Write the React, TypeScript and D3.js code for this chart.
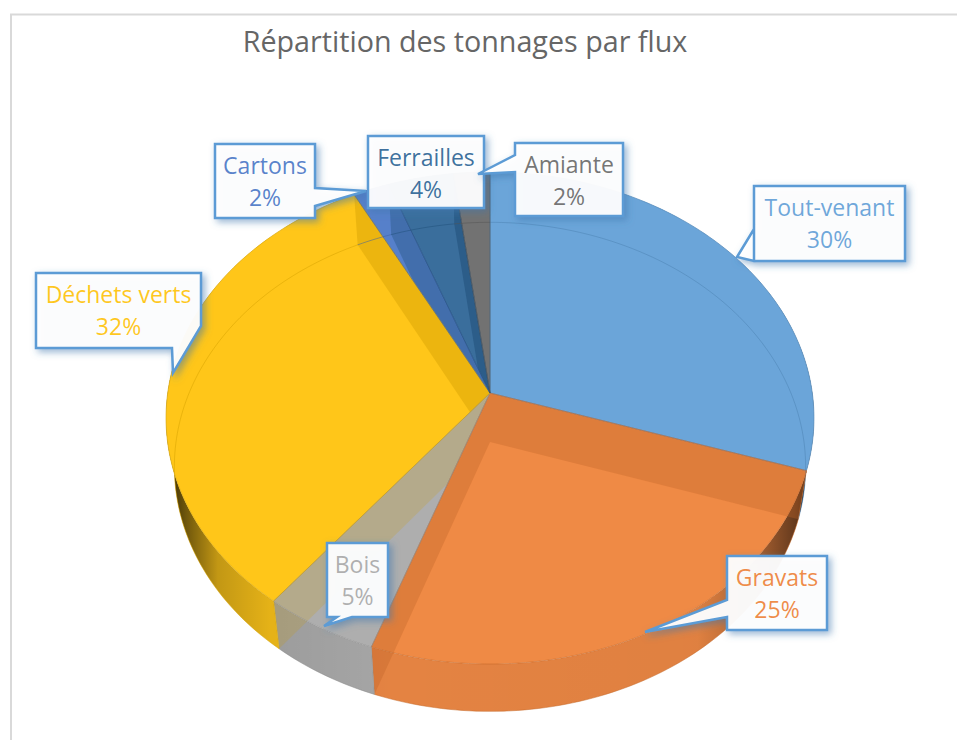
// App.tsx - Répartition des tonnages par flux (pseudo 3D pie)
import { useEffect, useRef } from 'react';
import * as d3 from 'd3';

const categories = ['Tout-venant', 'Gravats', 'Bois', 'Déchets verts', 'Cartons', 'Ferrailles', 'Amiante'];
const shares = [30, 25.4, 5.2, 31.8, 2, 3.6, 2];
const colors = ['#5b9bd5', '#ed7d31', '#a5a5a5', '#ffc000', '#4472c4', '#255e91', '#636363'];

// callout boxes: [left, top, right, bottom], same order as categories
const boxes = [
  [754, 186, 905, 261],
  [727, 556, 827, 630],
  [327, 543, 388, 617],
  [36, 273, 201, 348],
  [215, 144, 315, 218],
  [368, 136, 484, 208],
  [515, 143, 623, 216],
];
// tail of each callout: base point, tip, base point
const tails = [
  [[754, 229], [737, 257], [754, 261]],
  [[727, 617], [645, 632], [727, 600]],
  [[352, 617], [324, 626], [337, 617]],
  [[172, 348], [173, 373], [201, 326]],
  [[315, 188], [366, 191], [315, 206]],
  [[484, 208], [484, 208], [484, 208]],
  [[515, 172], [478, 174], [515, 155]],
];
// inner wall at the end of each slice: slice that colours it, slice it shows through, strength
const wallOwner = [1, 1, 3, 3, 5, 5, 0];
const wallOver = [1, 1, 2, 3, 4, 5, 6];
const wallAlpha = [0.35, 0.35, 0.2, 0.38, 0.35, 0.5, 0];

const WIDTH = 957;
const HEIGHT = 740;

// perspective of the top and bottom discs
const K = 0.1016;
const topDisc = { cx: 490, cy: 393, a: 322.3, b: 243.5 };
const bottomDisc = { cx: 490, cy: 442, a: 314, b: 242 };

const project = (disc, theta) => {
  const w = 1 + K * Math.cos(theta);
  return [disc.cx + (disc.a * Math.sin(theta)) / w, disc.cy - (disc.b * Math.cos(theta)) / w];
};

const arcPoints = (disc, start, end) => {
  const n = Math.max(2, Math.ceil((end - start) / 0.02));
  return d3.range(n + 1).map((i) => project(disc, start + ((end - start) * i) / n));
};

const App = () => {
  const svgRef = useRef(null);

  useEffect(() => {
    const svg = d3.select(svgRef.current);
    svg.selectAll('*').remove();

    const line = d3.line();
    const closed = (pts) => line(pts) + 'Z';

    const slices = d3.pie().sort(null).value((d) => d)(shares);
    const topPath = (s) => closed([[topDisc.cx, topDisc.cy], ...arcPoints(topDisc, s.startAngle, s.endAngle)]);
    const wallPath = (s) =>
      closed([
        ...arcPoints(topDisc, s.startAngle, s.endAngle),
        ...arcPoints(bottomDisc, s.startAngle, s.endAngle).reverse(),
      ]);

    const defs = svg.append('defs');
    const wallShade = defs
      .append('linearGradient')
      .attr('id', 'wallShade')
      .attr('gradientUnits', 'userSpaceOnUse')
      .attr('x1', 166)
      .attr('x2', 814)
      .attr('y1', 0)
      .attr('y2', 0);
    [
      [0, 0.8],
      [0.03, 0.55],
      [0.08, 0.2],
      [0.16, 0.06],
      [0.35, 0],
      [0.82, 0.02],
      [0.92, 0.3],
      [0.97, 0.55],
      [1, 0.8],
    ].forEach(([o, a]) => {
      wallShade.append('stop').attr('offset', o).attr('stop-color', '#000').attr('stop-opacity', a);
    });
    const shadow = defs
      .append('filter')
      .attr('id', 'boxShadow')
      .attr('x', '-30%')
      .attr('y', '-30%')
      .attr('width', '160%')
      .attr('height', '160%');
    shadow
      .append('feDropShadow')
      .attr('dx', 3)
      .attr('dy', 3)
      .attr('stdDeviation', 3.5)
      .attr('flood-color', '#3f78ad')
      .attr('flood-opacity', 0.55);
    // each slice's area (top face + outer wall), used to keep inner walls inside it
    slices.forEach((s, i) => {
      const clip = defs.append('clipPath').attr('id', `sliceArea${i}`);
      clip.append('path').attr('d', topPath(s));
      clip.append('path').attr('d', wallPath(s));
    });

    // chart frame
    svg
      .append('path')
      .attr('d', `M11,${HEIGHT}V14.5H${WIDTH}`)
      .attr('fill', 'none')
      .attr('stroke', '#d9d9d9')
      .attr('stroke-width', 2);

    svg
      .append('text')
      .attr('x', 465)
      .attr('y', 52)
      .attr('text-anchor', 'middle')
      .attr('font-family', '"Open Sans", sans-serif')
      .attr('font-size', 28.7)
      .attr('fill', '#666')
      .text('Répartition des tonnages par flux');

    // outer walls, top faces are painted over them
    slices.forEach((s, i) => {
      const d = wallPath(s);
      svg
        .append('path')
        .attr('d', d)
        .attr('fill', d3.color(colors[i]).darker(0.15).formatHex())
        .attr('fill-opacity', 0.9);
      svg.append('path').attr('d', d).attr('fill', 'url(#wallShade)');
    });

    // white disc so the walls don't show through the top faces
    svg
      .append('path')
      .attr('d', closed(arcPoints(topDisc, 0, Math.PI * 2)))
      .attr('fill', '#fff');

    // top faces
    slices.forEach((s, i) => {
      svg
        .append('path')
        .attr('d', topPath(s))
        .attr('fill', colors[i])
        .attr('fill-opacity', 0.9);
    });

    // inner walls, seen through the top faces
    slices.forEach((s, i) => {
      const t = s.endAngle;
      svg
        .append('path')
        .attr('d', closed([[topDisc.cx, topDisc.cy], project(topDisc, t), project(bottomDisc, t), [bottomDisc.cx, bottomDisc.cy]]))
        .attr('clip-path', `url(#sliceArea${wallOver[i]})`)
        .attr('fill', d3.color(colors[wallOwner[i]]).darker(0.6).formatHex())
        .attr('fill-opacity', wallAlpha[i]);
    });

    // bottom disc seen through the pie, then rims
    slices.forEach((s, i) => {
      const stroke = d3.color(colors[i]).darker(0.5).formatHex();
      svg
        .append('path')
        .attr('d', line(arcPoints(bottomDisc, s.startAngle, s.endAngle)))
        .attr('fill', 'none')
        .attr('stroke', stroke)
        .attr('stroke-opacity', 0.5);
      svg
        .append('path')
        .attr('d', topPath(s))
        .attr('fill', 'none')
        .attr('stroke', stroke)
        .attr('stroke-opacity', 0.6);
      // vertical edge only on the front half
      if (Math.cos(s.startAngle) < 0) {
        svg
          .append('path')
          .attr('d', line([project(topDisc, s.startAngle), project(bottomDisc, s.startAngle)]))
          .attr('fill', 'none')
          .attr('stroke', stroke)
          .attr('stroke-opacity', 0.5);
      }
    });

    // callouts
    const total = d3.sum(shares);
    const pct = d3.format('.0%');
    [4, 5, 6, 0, 3, 2, 1].forEach((i) => {
      const [l, t, r, b] = boxes[i];
      const [p1, tip, p2] = tails[i];
      const g = svg.append('g');
      // walk the box clockwise and slot the tail in on the side it belongs to
      let pts;
      if (p1[0] === l) pts = [[l, t], [r, t], [r, b], [l, b], p1, tip, p2];
      else if (p1[0] === r && p1[1] < b) pts = [[l, t], [r, t], p1, tip, p2, [r, b], [l, b]];
      else if (p2[0] === r) pts = [[l, t], [r, t], p2, tip, p1, [l, b]];
      else pts = [[l, t], [r, t], [r, b], p1, tip, p2, [l, b]];
      g.append('path')
        .attr('d', closed(pts))
        .attr('fill', '#fff')
        .attr('fill-opacity', 0.94)
        .attr('stroke', '#5b9bd5')
        .attr('stroke-width', 2.5)
        .attr('filter', 'url(#boxShadow)');
      const text = g
        .append('text')
        .attr('text-anchor', 'middle')
        .attr('font-family', '"Open Sans", sans-serif')
        .attr('font-size', 23)
        .attr('fill', colors[i])
        .attr('fill-opacity', 0.88);
      text.append('tspan').attr('x', (l + r) / 2).attr('y', t + 30).text(categories[i]);
      text.append('tspan').attr('x', (l + r) / 2).attr('y', t + 62).text(pct(shares[i] / total));
    });
  }, []);

  return (
    <svg
      ref={svgRef}
      width={WIDTH}
      height={HEIGHT}
      viewBox={`0 0 ${WIDTH} ${HEIGHT}`}
      style={{ position: 'absolute', left: 0, top: 0, background: '#fff' }}
    />
  );
};

export default App;
